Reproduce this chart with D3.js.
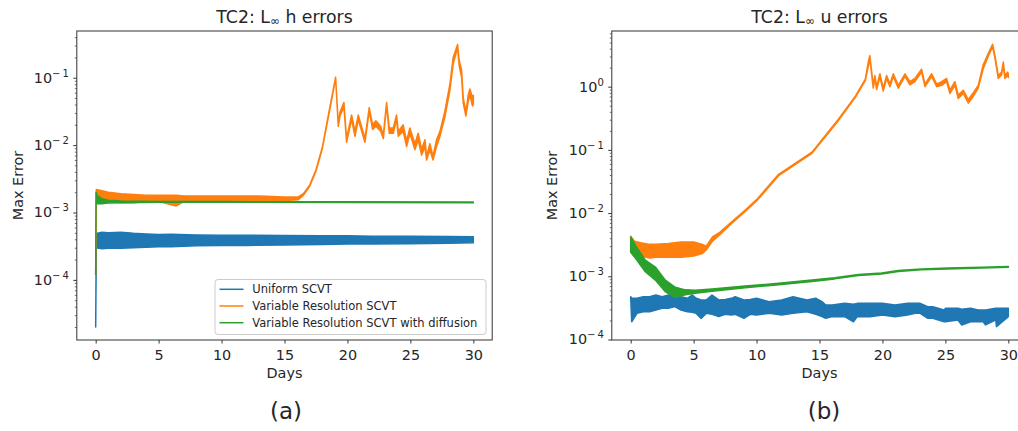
<!DOCTYPE html>
<html><head><meta charset="utf-8">
<script src="https://cdnjs.cloudflare.com/ajax/libs/d3/7.8.5/d3.min.js"></script>
<style>
body{margin:0;background:#fff}
svg{display:block}
text{font-family:"DejaVu Sans",sans-serif;fill:#262626}
</style>
</head><body>
<svg id="chart" width="1018" height="431"></svg>
<script>
// ---------- data ----------
const seriesNames = ["Uniform SCVT", "Variable Resolution SCVT", "Variable Resolution SCVT with diffusion"];
const seriesColors = ["#1f77b4", "#ff7f0e", "#2ca02c"];
const xTickValues = [0, 5, 10, 15, 20, 25, 30];
const hTickExponents = [-4, -3, -2, -1];
const uTickExponents = [-4, -3, -2, -1, 0];
const panelTitles = ["h errors", "u errors"];
const panelLetters = ["(a)", "(b)"];

// each entry: [day, low edge, high edge] of the plotted trace
const hUniform = [
  [0, 2.0e-5, 2.0e-5], [0.05, 3.0e-4, 4.9e-4], [0.5, 2.9e-4, 5.1e-4], [1, 2.95e-4, 5.0e-4],
  [2, 2.95e-4, 5.1e-4], [3, 3.0e-4, 4.9e-4], [4, 3.05e-4, 4.8e-4], [5, 3.1e-4, 4.7e-4],
  [6, 3.1e-4, 4.75e-4], [8, 3.2e-4, 4.65e-4], [10, 3.25e-4, 4.6e-4], [12, 3.25e-4, 4.6e-4],
  [15, 3.3e-4, 4.55e-4], [18, 3.35e-4, 4.5e-4], [20, 3.4e-4, 4.5e-4], [22, 3.4e-4, 4.45e-4],
  [25, 3.45e-4, 4.45e-4], [28, 3.5e-4, 4.4e-4], [30, 3.55e-4, 4.35e-4]
];
const hVariable = [
  [0, 1.2e-4, 1.2e-4], [0.05, 1.5e-3, 2.2e-3], [0.5, 1.45e-3, 2.1e-3], [1, 1.45e-3, 2.0e-3],
  [2, 1.4e-3, 1.9e-3], [3, 1.4e-3, 1.85e-3], [4, 1.45e-3, 1.8e-3], [5, 1.45e-3, 1.8e-3],
  [6.4, 1.25e-3, 1.8e-3], [7, 1.45e-3, 1.75e-3], [9, 1.45e-3, 1.75e-3], [11, 1.45e-3, 1.75e-3],
  [13, 1.5e-3, 1.75e-3], [15, 1.5e-3, 1.7e-3], [16.1, 1.55e-3, 1.7e-3], [16.5, 1.8e-3, 1.9e-3],
  [17.0, 2.45e-3, 2.55e-3], [17.5, 4.1e-3, 4.3e-3], [18.0, 8.8e-3, 9.2e-3], [18.5, 0.027, 0.029],
  [18.8, 0.053, 0.057], [19.06, 0.098, 0.102], [19.27, 0.019, 0.021], [19.41, 0.027, 0.031],
  [19.72, 0.037, 0.043], [19.93, 0.011, 0.0125], [20.33, 0.024, 0.028], [20.6, 0.0135, 0.016],
  [20.86, 0.024, 0.028], [21.39, 0.011, 0.0125], [21.73, 0.032, 0.036], [22.0, 0.017, 0.02],
  [22.26, 0.019, 0.023], [22.64, 0.016, 0.019], [22.85, 0.0125, 0.014], [23.11, 0.039, 0.043],
  [23.32, 0.015, 0.018], [23.64, 0.015, 0.018], [23.9, 0.024, 0.028], [24.04, 0.0135, 0.016],
  [24.43, 0.016, 0.02], [24.7, 0.0095, 0.0115], [24.96, 0.015, 0.018], [25.36, 0.0085, 0.0105],
  [25.62, 0.012, 0.015], [25.89, 0.0071, 0.0087], [26.16, 0.0095, 0.012], [26.29, 0.006, 0.0068],
  [26.55, 0.0085, 0.0105], [26.8, 0.006, 0.0068], [27.08, 0.0095, 0.012], [27.35, 0.0135, 0.016],
  [27.74, 0.026, 0.032], [28.14, 0.065, 0.08], [28.4, 0.16, 0.2], [28.75, 0.28, 0.31],
  [28.88, 0.15, 0.18], [29.07, 0.1, 0.13], [29.2, 0.042, 0.05], [29.41, 0.027, 0.031],
  [29.6, 0.045, 0.056], [29.73, 0.055, 0.068], [29.94, 0.038, 0.05], [30.0, 0.04, 0.055]
];
const hDiffusion = [
  [0, 1.2e-4, 1.2e-4], [0.03, 1.9e-3, 2.0e-3], [0.1, 1.35e-3, 1.8e-3], [0.5, 1.35e-3, 1.6e-3],
  [1, 1.38e-3, 1.52e-3], [2, 1.4e-3, 1.48e-3], [5, 1.42e-3, 1.46e-3], [10, 1.42e-3, 1.45e-3],
  [20, 1.41e-3, 1.44e-3], [30, 1.40e-3, 1.43e-3]
];

const uUniform = [
  [0, 4.76e-4, 4.76e-4], [0.08, 1.91e-4, 4.5e-4], [0.5, 2.59e-4, 4.48e-4], [1, 2.75e-4, 4.76e-4],
  [1.5, 2.75e-4, 4.76e-4], [2, 2.93e-4, 5.06e-4], [2.5, 3.11e-4, 4.76e-4], [3, 3.11e-4, 5.06e-4],
  [3.5, 3.31e-4, 5.06e-4], [4, 2.93e-4, 4.76e-4], [4.5, 2.75e-4, 4.48e-4], [4.9, 2.7e-4, 5.06e-4],
  [5.2, 2.59e-4, 4.48e-4], [5.6, 2.16e-4, 4.22e-4], [6, 2.59e-4, 4.22e-4], [6.46, 2.5e-4, 5.06e-4],
  [7, 2.3e-4, 4.22e-4], [7.5, 2.5e-4, 4.3e-4], [8, 2.44e-4, 4.48e-4], [8.3, 2.5e-4, 4.76e-4],
  [9, 2.16e-4, 4.22e-4], [9.5, 2.5e-4, 4.3e-4], [10, 2.44e-4, 4.48e-4], [11, 2.59e-4, 3.97e-4],
  [12, 2.44e-4, 4.22e-4], [12.9, 2.59e-4, 4.76e-4], [14, 2.75e-4, 4.22e-4], [14.7, 2.5e-4, 4.5e-4],
  [15.2, 2.3e-4, 3.97e-4], [15.5, 2.16e-4, 3.52e-4], [16, 2.3e-4, 3.52e-4], [17, 2.3e-4, 3.73e-4],
  [17.7, 1.91e-4, 3.6e-4], [18, 2.3e-4, 3.73e-4], [19, 2.3e-4, 3.73e-4], [20, 2.44e-4, 3.73e-4],
  [21, 2.3e-4, 3.52e-4], [22, 2.44e-4, 3.73e-4], [22.6, 2.59e-4, 3.73e-4], [23, 2.59e-4, 3.73e-4],
  [23.6, 2.16e-4, 3.31e-4], [24, 2.16e-4, 3.31e-4], [24.9, 1.91e-4, 2.93e-4], [25, 1.91e-4, 3.11e-4],
  [26, 2.04e-4, 3.11e-4], [26.3, 1.7e-4, 3.0e-4], [27, 1.91e-4, 3.11e-4], [27.6, 1.91e-4, 2.93e-4],
  [28, 1.91e-4, 2.93e-4], [28.2, 1.7e-4, 2.93e-4], [29, 2.04e-4, 3.11e-4], [29.06, 1.6e-4, 3.11e-4],
  [30, 2.3e-4, 3.11e-4]
];
const uVariable = [
  [0, 4.0e-3, 4.3e-3], [0.3, 2.6e-3, 3.6e-3], [0.8, 2.1e-3, 3.4e-3], [1.5, 1.95e-3, 3.2e-3],
  [2, 2.0e-3, 3.2e-3], [3, 2.0e-3, 3.3e-3], [4, 2.0e-3, 3.5e-3], [5, 2.1e-3, 3.5e-3],
  [5.7, 2.3e-3, 3.2e-3], [6.0, 2.6e-3, 3.0e-3], [6.5, 3.6e-3, 4.2e-3], [7.1, 4.6e-3, 5.0e-3],
  [8, 6.8e-3, 7.2e-3], [9.1, 0.0106, 0.0112], [10.0, 0.0155, 0.0163], [11.75, 0.039, 0.041],
  [14.4, 0.088, 0.092], [16.5, 0.29, 0.305], [17.85, 0.68, 0.71], [18.64, 1.25, 1.32],
  [18.9, 2.2, 2.6], [19.0, 2.8, 3.1], [19.27, 0.95, 1.05], [19.4, 1.35, 1.5],
  [19.54, 0.9, 1.0], [19.8, 1.45, 1.6], [20.06, 0.85, 0.95], [20.33, 1.35, 1.5],
  [20.6, 1.0, 1.1], [20.86, 1.45, 1.6], [21.26, 0.95, 1.05], [21.79, 1.45, 1.6],
  [22.18, 1.07, 1.2], [22.58, 1.2, 1.35], [23.11, 1.7, 1.9], [23.38, 1.0, 1.1],
  [23.91, 1.45, 1.6], [24.31, 1.0, 1.1], [24.7, 1.05, 1.2], [25.1, 1.2, 1.35],
  [25.36, 0.78, 0.88], [25.76, 1.05, 1.2], [26.02, 0.65, 0.74], [26.42, 0.78, 0.88],
  [26.82, 0.55, 0.62], [27.21, 0.7, 0.8], [27.61, 0.95, 1.05], [28.0, 1.9, 2.2],
  [28.4, 3.0, 3.35], [28.75, 4.3, 4.7], [28.94, 2.8, 3.1], [29.2, 1.35, 1.5],
  [29.47, 1.55, 1.7], [29.6, 2.2, 2.45], [29.73, 1.35, 1.5], [29.94, 1.5, 1.7],
  [30.0, 1.4, 1.6]
];
const uDiffusion = [
  [0, 2.4e-3, 4.2e-3], [0.37, 1.95e-3, 3.1e-3], [1.16, 1.18e-3, 1.8e-3], [1.96, 8.7e-4, 1.4e-3],
  [2.75, 5.7e-4, 8.7e-4], [3.54, 4.6e-4, 6.7e-4], [4.34, 5.1e-4, 6.1e-4], [5.13, 5.4e-4, 6.0e-4],
  [6.46, 5.8e-4, 6.3e-4], [9.1, 6.6e-4, 7.0e-4], [11.75, 7.35e-4, 7.75e-4], [14.4, 8.3e-4, 8.7e-4],
  [16.2, 9.1e-4, 9.5e-4], [18.1, 1.03e-3, 1.07e-3], [19.94, 1.09e-3, 1.13e-3], [21.26, 1.19e-3, 1.23e-3],
  [23.1, 1.27e-3, 1.31e-3], [25.2, 1.31e-3, 1.35e-3], [27.9, 1.35e-3, 1.39e-3], [30, 1.39e-3, 1.43e-3]
];

// ---------- drawing ----------
const svg = d3.select("#chart");
const FS_TICK = 14.4, FS_TITLE = 17.3, FS_LEG = 11.5;

const panels = [
  { series: [hUniform, hVariable, hDiffusion], exps: hTickExponents, title: panelTitles[0], letter: panelLetters[0],
    x0: 76.8, x1: 492.2, yLogMin: -4.892, yLogMax: -0.307, ylabX: 18, legend: true },
  { series: [uUniform, uVariable, uDiffusion], exps: uTickExponents, title: panelTitles[1], letter: panelLetters[1],
    x0: 611.8, x1: 1027.2, yLogMin: -4.008, yLogMax: 0.881, ylabX: 552, legend: false }
];
const plotTop = 31, plotBottom = 340;

panels.forEach((p, pi) => {
  const x = d3.scaleLinear().domain([-1.5, 31.5]).range([p.x0, p.x1]);
  const y = d3.scaleLog().domain([Math.pow(10, p.yLogMin), Math.pow(10, p.yLogMax)]).range([plotBottom, plotTop]);
  const g = svg.append("g");
  const clipId = "clip" + pi;
  svg.append("clipPath").attr("id", clipId).append("rect")
    .attr("x", p.x0).attr("y", plotTop).attr("width", p.x1 - p.x0).attr("height", plotBottom - plotTop);

  const area = d3.area().x(d => x(d[0])).y0(d => y(d[1])).y1(d => y(d[2]));
  const plot = g.append("g").attr("clip-path", `url(#${clipId})`);
  p.series.forEach((s, si) => {
    plot.append("path").attr("d", area(s))
      .attr("fill", seriesColors[si]).attr("stroke", seriesColors[si])
      .attr("stroke-width", 1.5).attr("stroke-linejoin", "round");
  });

  // x axis
  const xa = g.append("g").attr("transform", `translate(0,${plotBottom})`)
    .call(d3.axisBottom(x).tickValues(xTickValues).tickSize(3.5).tickPadding(6).tickFormat(d3.format("d")));
  xa.select(".domain").remove();
  xa.selectAll("line").attr("stroke", "#333");
  xa.selectAll("text").attr("font-size", FS_TICK).attr("font-family", "DejaVu Sans").attr("fill", "#262626");

  // y axis major ticks
  const majors = p.exps.map(e => Math.pow(10, e));
  const ya = g.append("g").attr("transform", `translate(${p.x0},0)`)
    .call(d3.axisLeft(y).tickValues(majors).tickSize(3.5).tickFormat(() => ""));
  ya.select(".domain").remove();
  ya.selectAll("line").attr("stroke", "#333");
  // minor ticks
  const minors = [];
  for (let k = Math.floor(p.yLogMin); k <= Math.ceil(p.yLogMax); k++) {
    for (let m = 2; m <= 9; m++) {
      const v = m * Math.pow(10, k);
      const lv = Math.log10(v);
      if (lv >= p.yLogMin && lv <= p.yLogMax) minors.push(v);
    }
  }
  const ym = g.append("g").attr("transform", `translate(${p.x0},0)`)
    .call(d3.axisLeft(y).tickValues(minors).tickSize(2).tickFormat(() => ""));
  ym.select(".domain").remove();
  ym.selectAll("line").attr("stroke", "#333").attr("stroke-width", 0.7);

  // y tick labels 10^e
  p.exps.forEach(e => {
    const t = g.append("text").attr("x", p.x0 - 8).attr("y", y(Math.pow(10, e)) + 5)
      .attr("text-anchor", "end").attr("font-size", FS_TICK);
    t.append("tspan").text("10");
    const sup = e < 0 ? "\u2212\u2009" + Math.abs(e) : String(e);
    t.append("tspan").attr("dy", -6).attr("font-size", 10).text(sup);
  });

  // spines
  g.append("rect").attr("x", p.x0).attr("y", plotTop).attr("width", p.x1 - p.x0).attr("height", plotBottom - plotTop)
    .attr("fill", "none").attr("stroke", "#333").attr("stroke-width", 1);

  const cx = (p.x0 + p.x1) / 2;
  // title
  const tt = g.append("text").attr("x", cx).attr("y", 23).attr("text-anchor", "middle").attr("font-size", FS_TITLE);
  tt.append("tspan").text("TC2: L");
  tt.append("tspan").attr("font-size", 12).attr("dy", 2).text("\u221e");
  tt.append("tspan").attr("dy", -2).text(" " + p.title);

  // axis labels
  g.append("text").attr("x", cx).attr("y", 378).attr("text-anchor", "middle").attr("font-size", FS_TICK).text("Days");
  g.append("text").attr("transform", `translate(${p.ylabX + 5},${(plotTop + plotBottom) / 2}) rotate(-90)`)
    .attr("text-anchor", "middle").attr("font-size", FS_TICK).text("Max Error");

  // panel letter
  g.append("text").attr("x", pi === 0 ? 286 : 824).attr("y", 419).attr("text-anchor", "middle")
    .attr("font-family", "Liberation Sans").attr("font-size", 23).attr("fill", "#111").text(p.letter);

  // legend
  if (p.legend) {
    const lg = g.append("g");
    lg.append("rect").attr("x", 215).attr("y", 279.5).attr("width", 271).attr("height", 55).attr("rx", 3)
      .attr("fill", "#fff").attr("fill-opacity", 0.8).attr("stroke", "#ccc");
    seriesNames.forEach((n, i) => {
      const yy = 289.3 + i * 16.7;
      lg.append("line").attr("x1", 219.5).attr("x2", 243.5).attr("y1", yy).attr("y2", yy)
        .attr("stroke", seriesColors[i]).attr("stroke-width", 1.5);
      lg.append("text").attr("x", 252.3).attr("y", yy + 4).attr("font-size", FS_LEG).text(n);
    });
  }
});
</script>
</body></html>
